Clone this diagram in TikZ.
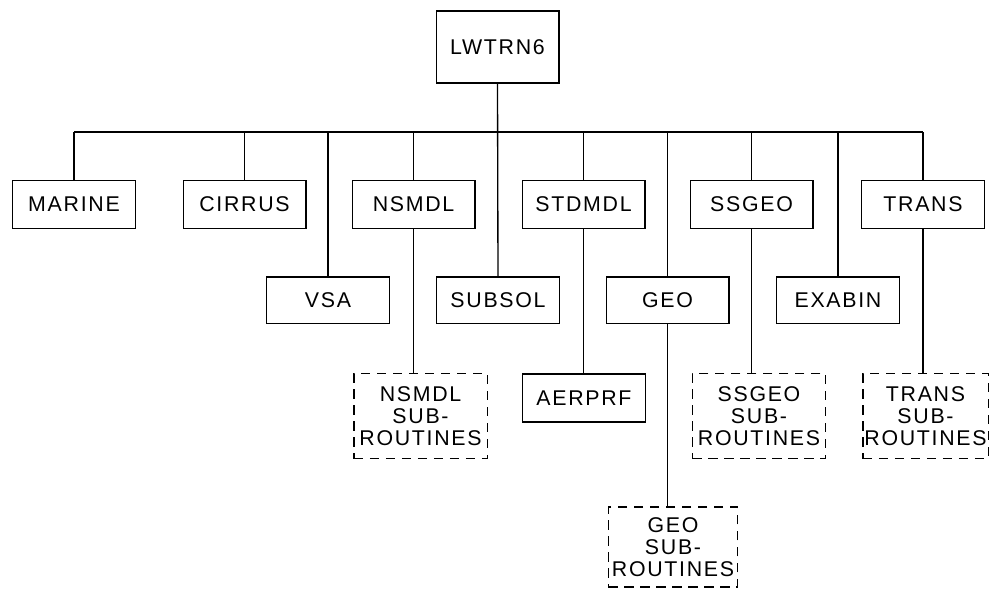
\documentclass[tikz,border=0pt]{standalone}
\usepackage{fontspec}
\setmainfont{Liberation Sans}
\newfontfamily\lettering[LetterSpace=8]{Liberation Sans}
\usepackage{tikz}
\usetikzlibrary{positioning}

\tikzset{
	prog/.style={draw, line width=1pt, minimum width=92pt, minimum height=36pt, inner sep=0pt,
		font=\lettering\fontsize{16}{16.5}\selectfont, align=center},
	subprog/.style={prog, dash pattern=on 7pt off 5pt, minimum width=100pt, minimum height=64pt},
	link/.style={line width=1pt}
}

\begin{document}
\begin{tikzpicture}[x=0.75pt, y=-0.75pt]
		\useasboundingbox (0,0) rectangle (990,591);
		% main program
		\node[prog, minimum height=54pt] (lwtrn) at (497.5,47) {LWTRN6};
		% first row
		\node[prog] (marine) at (74,204.5) {MARINE};
		\node[prog] (cirrus) at (244.5,204.5) {CIRRUS};
		\node[prog] (nsmdl) at (413.5,204.5) {NSMDL};
		\node[prog] (stdmdl) at (583.5,204.5) {STDMDL};
		\node[prog] (ssgeo) at (751.5,204.5) {SSGEO};
		\node[prog] (trans) at (923,204.5) {TRANS};
		% second row
		\node[prog, minimum height=35pt] (vsa) at (328,300.5) {VSA};
		\node[prog, minimum height=35pt] (subsol) at (498,300.5) {SUBSOL};
		\node[prog, minimum height=35pt] (geo) at (667.5,300.5) {GEO};
		\node[prog, minimum height=35pt] (exabin) at (838,300.5) {EXABIN};
		% subroutines
		\node[subprog] (nsmdlsub) at (420.5,416) {NSMDL\\SUB-\\ROUTINES};
		\node[prog] (aerprf) at (584,398) {AERPRF};
		\node[subprog] (ssgeosub) at (759,416) {SSGEO\\SUB-\\ROUTINES};
		\node[subprog, minimum width=94pt] (transsub) at (925.5,416) {TRANS\\SUB-\\ROUTINES};
		\node[subprog, minimum width=97pt, minimum height=60pt] (geosub) at (673,547) {GEO\\SUB-\\ROUTINES};
		% bus
		\coordinate (busL) at (74,132);
		\coordinate (busR) at (923,132);
		\draw[link] (busL) -- (busR);
		\draw[link] (lwtrn.south) -- (subsol.north);
		\foreach \n in {marine,cirrus,nsmdl,stdmdl,ssgeo,trans}
			\draw[link] (\n.north) -- (\n.north |- busL);
		\foreach \n in {vsa,geo,exabin}
			\draw[link] (\n.north) -- (\n.north |- busL);
		% links to subroutines
		\draw[link] (nsmdl.south) -- (nsmdl.south |- nsmdlsub.north);
		\draw[link] (stdmdl.south) -- (stdmdl.south |- aerprf.north);
		\draw[link] (ssgeo.south) -- (ssgeo.south |- ssgeosub.north);
		\draw[link] (trans.south) -- (trans.south |- transsub.north);
		\draw[link] (geo.south) -- (geo.south |- geosub.north);
	\end{tikzpicture}
\end{document}
